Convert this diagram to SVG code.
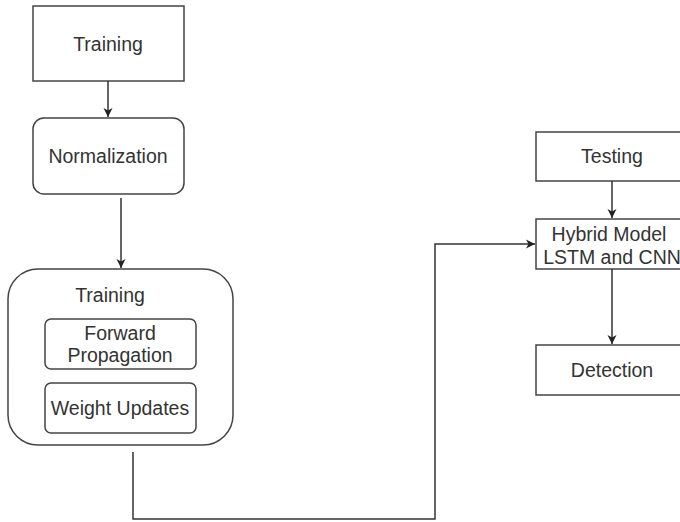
<svg xmlns="http://www.w3.org/2000/svg" width="680" height="522" viewBox="0 0 680 522">
<defs>
<marker id="ah" markerWidth="10" markerHeight="10" refX="9" refY="5" orient="auto" markerUnits="userSpaceOnUse">
<path d="M0,0.5 L9,5 L0,9.5 L2.5,5 Z" fill="#222"/>
</marker>
<style>
.box{fill:#fff;stroke:#444;stroke-width:1.5}
.t{font-family:"Liberation Sans",Arial,sans-serif;font-size:19.5px;fill:#333;text-anchor:middle}
.c{fill:none;stroke:#333;stroke-width:1.5}
</style>
</defs>
<rect width="680" height="522" fill="#fff"/>
<g id="training1">
<rect class="box" x="33" y="6" width="151" height="75"/>
<text class="t" x="108" y="51">Training</text>
</g>
<g id="normalization">
<rect class="box" x="33" y="118" width="151" height="76" rx="11"/>
<text class="t" x="108" y="163">Normalization</text>
</g>
<g id="training2">
<rect class="box" x="8" y="269" width="225" height="176" rx="30"/>
<text class="t" x="110" y="302">Training</text>
</g>
<g id="forward">
<rect class="box" x="45" y="319" width="151" height="50" rx="6"/>
<text class="t" x="120" y="340">Forward</text>
<text class="t" x="120" y="362">Propagation</text>
</g>
<g id="weight">
<rect class="box" x="45" y="383" width="151" height="50" rx="6"/>
<text class="t" x="120" y="415">Weight Updates</text>
</g>
<g id="testing">
<rect class="box" x="536" y="132" width="152" height="49"/>
<text class="t" x="612" y="163">Testing</text>
</g>
<g id="hybrid">
<rect class="box" x="536" y="219" width="152" height="50"/>
<text class="t" x="609" y="241">Hybrid Model</text>
<text class="t" x="612" y="264">LSTM and CNN</text>
</g>
<g id="detection">
<rect class="box" x="536" y="345" width="152" height="50"/>
<text class="t" x="612" y="377">Detection</text>
</g>
<g id="connectors">
<line class="c" x1="108" y1="81" x2="108" y2="117" marker-end="url(#ah)"/>
<line class="c" x1="121" y1="198" x2="121" y2="268" marker-end="url(#ah)"/>
<polyline class="c" points="133,452 133,519 435,519 435,244 535,244" marker-end="url(#ah)"/>
<line class="c" x1="612" y1="181" x2="612" y2="218" marker-end="url(#ah)"/>
<line class="c" x1="612" y1="269" x2="612" y2="344" marker-end="url(#ah)"/>
</g>
</svg>
